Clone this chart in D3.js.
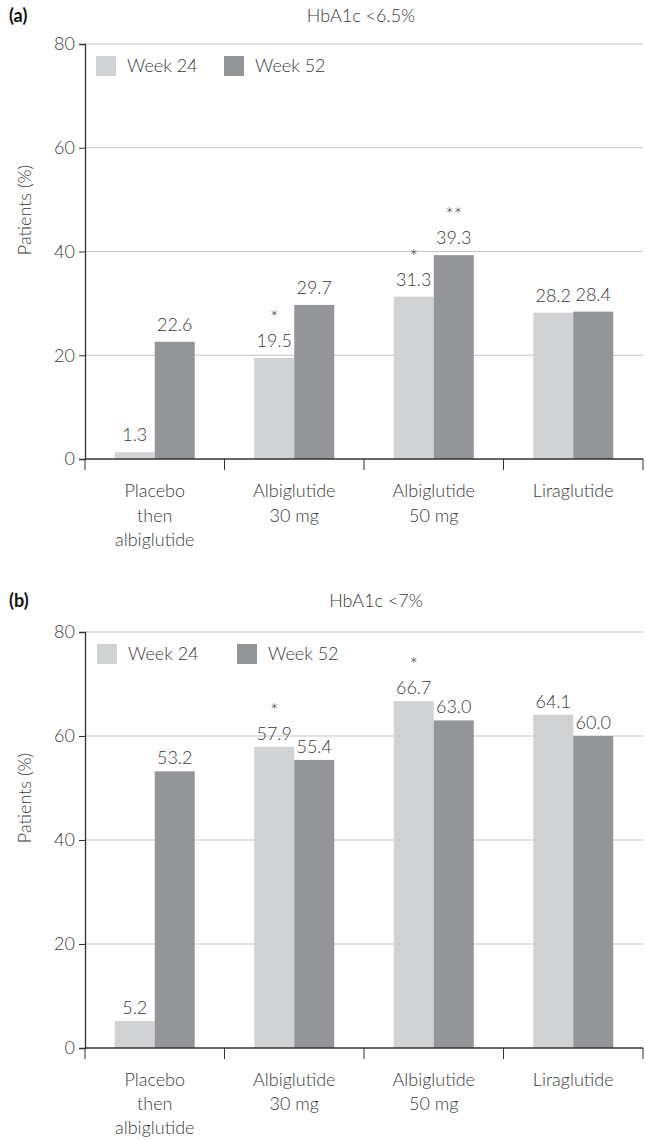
<!DOCTYPE html>
<html>
<head>
<meta charset="utf-8">
<script src="https://cdn.jsdelivr.net/npm/d3@7/dist/d3.min.js"></script>
<style>
  body { margin: 0; background: white; }
  svg text { font-family: Lato, "Open Sans", sans-serif; font-weight: 300; fill: #3a3a3a; }
</style>
</head>
<body>
<div id="chart"></div>
<script>
var width = 646;
var height = 1140;

var categories = ["Placebo then albiglutide", "Albiglutide 30 mg", "Albiglutide 50 mg", "Liraglutide"];
var categoryLines = [["Placebo", "then", "albiglutide"], ["Albiglutide", "30 mg"], ["Albiglutide", "50 mg"], ["Liraglutide"]];
var series = ["Week 24", "Week 52"];
var yTicks = [0, 20, 40, 60, 80];

var week24A = [1.3, 19.5, 31.3, 28.2];
var week52A = [22.6, 29.7, 39.3, 28.4];
var stars24A = ["", "*", "*", ""];
var stars52A = ["", "", "**", ""];

var week24B = [5.2, 57.9, 66.7, 64.1];
var week52B = [53.2, 55.4, 63.0, 60.0];
var stars24B = ["", "*", "*", ""];
var stars52B = ["", "", "", ""];

var colors = ["#d1d2d4", "#939598"];

var canvas = d3.select("#chart")
    .append("svg")
    .attr("width", width)
    .attr("height", height)

canvas.append("rect")
    .attr("width", width)
    .attr("height", height)
    .attr("fill", "white")

function drawPanel(opts) {
    var g = canvas.append("g")

    var x = d3.scaleBand().domain(categories).range([85, 643])
    var xInner = d3.scaleBand().domain(series).range([0, 80])
    var y = d3.scaleLinear().domain([0, 80]).range([opts.bottom, opts.top])

    // panel letter and title
    g.append("text")
        .attr("x", 9)
        .attr("y", opts.titleY)
        .style("font-weight", "bold")
        .style("font-size", "18px")
        .style("fill", "#111")
        .text(opts.letter)

    g.append("text")
        .attr("x", opts.titleX)
        .attr("y", opts.titleY)
        .attr("text-anchor", "middle")
        .style("font-size", "18px")
        .text(opts.title)

    // gridlines
    g.selectAll(".grid")
        .data(yTicks.filter(function(d) { return d > 0; }))
        .enter().append("line")
        .attr("x1", 85)
        .attr("x2", 643)
        .attr("y1", function(d) { return y(d); })
        .attr("y2", function(d) { return y(d); })
        .style("stroke", "#c4c4c4")
        .style("stroke-width", "1px")

    var rows = categories.map(function(c, i) {
        return [
            { cat: c, s: series[0], v: opts.w24[i], star: opts.s24[i] },
            { cat: c, s: series[1], v: opts.w52[i], star: opts.s52[i] }
        ];
    });
    var flat = [].concat.apply([], rows);

    var barX = function(d) {
        return x(d.cat) + (x.bandwidth() - 80) / 2 + xInner(d.s);
    };

    g.selectAll(".bar")
        .data(flat)
        .enter().append("rect")
        .attr("class", "bar")
        .attr("x", barX)
        .attr("width", xInner.bandwidth())
        .attr("y", function(d) { return y(d.v); })
        .attr("height", function(d) { return y(0) - y(d.v); })
        .attr("fill", function(d) { return d.s === series[0] ? colors[0] : colors[1]; })

    g.selectAll(".val")
        .data(flat)
        .enter().append("text")
        .attr("x", function(d) { return barX(d) + xInner.bandwidth() / 2; })
        .attr("y", function(d) { return y(d.v) - opts.labelGap; })
        .attr("text-anchor", "middle")
        .style("font-size", "18px")
        .text(function(d) { return d.v.toFixed(1); })

    // significance markers sit above the value labels
    g.selectAll(".star")
        .data(flat.filter(function(d) { return d.star; }))
        .enter().append("text")
        .attr("x", function(d) { return barX(d) + xInner.bandwidth() / 2; })
        .attr("y", function(d) { return y(d.v) - opts.labelGap - 22; })
        .attr("text-anchor", "middle")
        .style("font-size", "20px")
        .text(function(d) { return d.star; })

    // y axis
    var yAxis = g.append("g")
        .attr("transform", "translate(85, 0)")
        .call(d3.axisLeft(y).tickValues(yTicks).tickSize(6).tickPadding(4))
    yAxis.select(".domain").style("stroke", "#333").style("stroke-width", "1.3px")
    yAxis.selectAll(".tick line").style("stroke", "#333")
    yAxis.selectAll("text")
        .style("font-size", "18px")
        .style("font-family", "Lato, 'Open Sans', sans-serif")
        .style("fill", "#3a3a3a")

    // x baseline and ticks at band edges
    g.append("line")
        .attr("x1", 85).attr("x2", 643)
        .attr("y1", y(0)).attr("y2", y(0))
        .style("stroke", "#333").style("stroke-width", "1.3px")

    var edges = categories.map(function(c) { return x(c); }).concat([x.range()[1]]);
    g.selectAll(".xtick")
        .data(edges)
        .enter().append("line")
        .attr("x1", function(d) { return d; })
        .attr("x2", function(d) { return d; })
        .attr("y1", y(0))
        .attr("y2", y(0) + 11)
        .style("stroke", "#333")
        .style("stroke-width", "1px")

    var catLabels = g.selectAll(".cat")
        .data(categories)
        .enter().append("text")
        .attr("text-anchor", "middle")
        .style("font-size", "18px")
        .attr("y", y(0) + 38)

    catLabels.each(function(c, i) {
        var t = d3.select(this);
        categoryLines[i].forEach(function(line, j) {
            t.append("tspan")
                .attr("x", x(c) + x.bandwidth() / 2)
                .attr("dy", j === 0 ? 0 : opts.lineH)
                .text(line)
        })
    })

    // y title
    g.append("text")
        .attr("transform", "translate(31," + (opts.top + 166) + ") rotate(-90)")
        .attr("text-anchor", "middle")
        .style("font-size", "18px")
        .text("Patients (%)")

    // legend
    var legend = g.selectAll(".legend")
        .data(series)
        .enter().append("g")
        .attr("transform", function(d, i) {
            return "translate(" + opts.legendX[i] + "," + (opts.top + 12) + ")";
        })
    legend.append("rect")
        .attr("width", 20)
        .attr("height", 20)
        .attr("fill", function(d, i) { return colors[i]; })
    legend.append("text")
        .attr("x", 31)
        .attr("y", 16)
        .style("font-size", "18px")
        .text(function(d) { return d; })
}

drawPanel({
    letter: "(a)", title: "HbA1c <6.5%", titleX: 361, titleY: 22,
    top: 44, bottom: 459, w24: week24A, w52: week52A, s24: stars24A, s52: stars52A,
    labelGap: 11, lineH: 24.5, legendX: [96, 224]
})

drawPanel({
    letter: "(b)", title: "HbA1c <7%", titleX: 376, titleY: 607,
    top: 632, bottom: 1048, w24: week24B, w52: week52B, s24: stars24B, s52: stars52B,
    labelGap: 7, lineH: 24, legendX: [97, 237]
})
</script>
</body>
</html>
